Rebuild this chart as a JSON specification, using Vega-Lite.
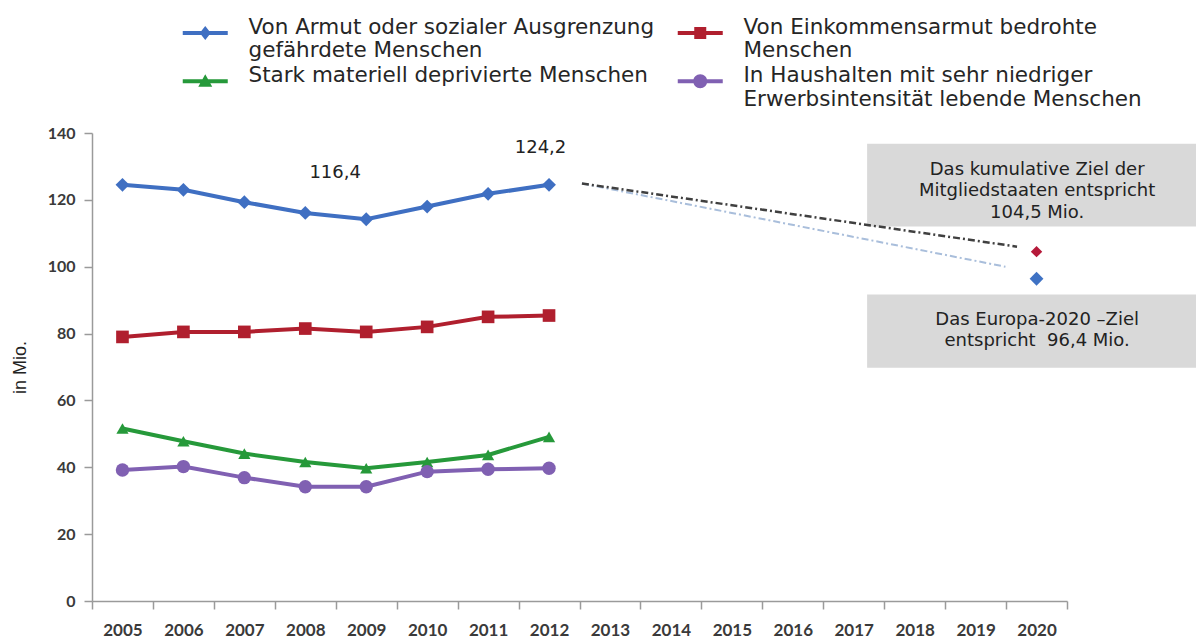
{
  "$schema": "https://vega.github.io/schema/vega-lite/v6.json",
  "width": 975,
  "height": 468,
  "autosize": "none",
  "padding": {"left": 92, "top": 133, "right": 129, "bottom": 37},
  "background": "white",
  "config": {"view": {"stroke": null}, "font": "Liberation Sans"},
  "datasets": {
    "series": [
      {"year": 2005, "value": 124.5, "series": "Von Armut oder sozialer Ausgrenzung|gefährdete Menschen"},
      {"year": 2006, "value": 123.0, "series": "Von Armut oder sozialer Ausgrenzung|gefährdete Menschen"},
      {"year": 2007, "value": 119.3, "series": "Von Armut oder sozialer Ausgrenzung|gefährdete Menschen"},
      {"year": 2008, "value": 116.1, "series": "Von Armut oder sozialer Ausgrenzung|gefährdete Menschen"},
      {"year": 2009, "value": 114.2, "series": "Von Armut oder sozialer Ausgrenzung|gefährdete Menschen"},
      {"year": 2010, "value": 118.0, "series": "Von Armut oder sozialer Ausgrenzung|gefährdete Menschen"},
      {"year": 2011, "value": 121.8, "series": "Von Armut oder sozialer Ausgrenzung|gefährdete Menschen"},
      {"year": 2012, "value": 124.5, "series": "Von Armut oder sozialer Ausgrenzung|gefährdete Menschen"},
      {"year": 2005, "value": 79.0, "series": "Von Einkommensarmut bedrohte|Menschen"},
      {"year": 2006, "value": 80.5, "series": "Von Einkommensarmut bedrohte|Menschen"},
      {"year": 2007, "value": 80.5, "series": "Von Einkommensarmut bedrohte|Menschen"},
      {"year": 2008, "value": 81.5, "series": "Von Einkommensarmut bedrohte|Menschen"},
      {"year": 2009, "value": 80.5, "series": "Von Einkommensarmut bedrohte|Menschen"},
      {"year": 2010, "value": 82.0, "series": "Von Einkommensarmut bedrohte|Menschen"},
      {"year": 2011, "value": 85.0, "series": "Von Einkommensarmut bedrohte|Menschen"},
      {"year": 2012, "value": 85.4, "series": "Von Einkommensarmut bedrohte|Menschen"},
      {"year": 2005, "value": 51.6, "series": "Stark materiell deprivierte Menschen"},
      {"year": 2006, "value": 47.8, "series": "Stark materiell deprivierte Menschen"},
      {"year": 2007, "value": 44.1, "series": "Stark materiell deprivierte Menschen"},
      {"year": 2008, "value": 41.6, "series": "Stark materiell deprivierte Menschen"},
      {"year": 2009, "value": 39.7, "series": "Stark materiell deprivierte Menschen"},
      {"year": 2010, "value": 41.6, "series": "Stark materiell deprivierte Menschen"},
      {"year": 2011, "value": 43.7, "series": "Stark materiell deprivierte Menschen"},
      {"year": 2012, "value": 49.1, "series": "Stark materiell deprivierte Menschen"},
      {"year": 2005, "value": 39.2, "series": "In Haushalten mit sehr niedriger|Erwerbsintensität lebende Menschen"},
      {"year": 2006, "value": 40.2, "series": "In Haushalten mit sehr niedriger|Erwerbsintensität lebende Menschen"},
      {"year": 2007, "value": 36.9, "series": "In Haushalten mit sehr niedriger|Erwerbsintensität lebende Menschen"},
      {"year": 2008, "value": 34.2, "series": "In Haushalten mit sehr niedriger|Erwerbsintensität lebende Menschen"},
      {"year": 2009, "value": 34.2, "series": "In Haushalten mit sehr niedriger|Erwerbsintensität lebende Menschen"},
      {"year": 2010, "value": 38.7, "series": "In Haushalten mit sehr niedriger|Erwerbsintensität lebende Menschen"},
      {"year": 2011, "value": 39.4, "series": "In Haushalten mit sehr niedriger|Erwerbsintensität lebende Menschen"},
      {"year": 2012, "value": 39.7, "series": "In Haushalten mit sehr niedriger|Erwerbsintensität lebende Menschen"}
    ],
    "projection": [
      {"line": "Mitgliedstaaten", "year": 2012.54, "value": 124.9},
      {"line": "Mitgliedstaaten", "year": 2019.68, "value": 106.0},
      {"line": "Europa", "year": 2012.54, "value": 124.9},
      {"line": "Europa", "year": 2019.49, "value": 100.0}
    ],
    "targets": [
      {"target": "Mitgliedstaaten", "year": 2020, "value": 104.5},
      {"target": "Europa", "year": 2020, "value": 96.4}
    ],
    "boxes": [
      {"box": "Mitgliedstaaten", "x0": 2017.22, "x1": 2022.62, "y0": 136.8, "y1": 112.0, "cx": 2020.01, "cy": 129.0, "text": "Das kumulative Ziel der|Mitgliedstaaten entspricht|104,5 Mio."},
      {"box": "Europa", "x0": 2017.22, "x1": 2022.62, "y0": 91.7, "y1": 69.8, "cx": 2020.01, "cy": 84.2, "text": "Das Europa-2020 \u2013Ziel|entspricht \u00a096,4 Mio."}
    ],
    "labels": [
      {"year": 2008.49, "value": 127.9, "label": "116,4"},
      {"year": 2011.86, "value": 135.6, "label": "124,2"}
    ]
  },
  "layer": [
    {
      "data": {"name": "boxes"},
      "mark": {"type": "rect", "color": "#d9d9d9"},
      "encoding": {
        "x": {"field": "x0", "type": "quantitative", "scale": {"domain": [2004.5, 2020.5], "nice": false, "zero": false}},
        "x2": {"field": "x1"},
        "y": {"field": "y0", "type": "quantitative", "scale": {"domain": [0, 140], "nice": false}},
        "y2": {"field": "y1"}
      }
    },
    {
      "data": {"name": "boxes"},
      "transform": [{"calculate": "split(datum.text, '|')", "as": "lines"}],
      "mark": {"type": "text", "font": "DejaVu Sans", "fontSize": 18, "color": "#222", "align": "center", "baseline": "middle", "lineHeight": 21.5},
      "encoding": {
        "x": {"field": "cx", "type": "quantitative"},
        "y": {"field": "cy", "type": "quantitative"},
        "text": {"field": "lines"}
      }
    },
    {
      "data": {"name": "projection"},
      "transform": [{"filter": "datum.line == 'Europa'"}],
      "mark": {"type": "line", "color": "#a9bedb", "strokeWidth": 2, "strokeDash": [7, 3, 2, 3]},
      "encoding": {
        "x": {"field": "year", "type": "quantitative"},
        "y": {"field": "value", "type": "quantitative"}
      }
    },
    {
      "data": {"name": "projection"},
      "transform": [{"filter": "datum.line == 'Mitgliedstaaten'"}],
      "mark": {"type": "line", "color": "#404040", "strokeWidth": 2.5, "strokeDash": [7, 3, 2, 3]},
      "encoding": {
        "x": {"field": "year", "type": "quantitative"},
        "y": {"field": "value", "type": "quantitative"}
      }
    },
    {
      "data": {"name": "series"},
      "mark": {"type": "line", "strokeWidth": 4},
      "encoding": {
        "x": {
          "field": "year", "type": "quantitative",
          "scale": {"domain": [2004.5, 2020.5], "nice": false, "zero": false},
          "axis": {
            "title": null,
            "values": [2004.5, 2005.5, 2006.5, 2007.5, 2008.5, 2009.5, 2010.5, 2011.5, 2012.5, 2013.5, 2014.5, 2015.5, 2016.5, 2017.5, 2018.5, 2019.5, 2020.5],
            "labelExpr": "datum.value < 2020 ? format(datum.value + 0.5, 'd') : ''",
            "labelOffset": 30.47,
            "tickSize": 8, "tickColor": "#9a9a9a", "tickWidth": 1.5,
            "domainColor": "#9a9a9a", "domainWidth": 1.5,
            "labelFont": "Lato", "labelFontWeight": "bold", "labelFontSize": 17, "labelColor": "#3a3a3a",
            "labelPadding": 13, "labelOverlap": false, "labelBound": false, "labelFlush": false, "grid": false
          }
        },
        "y": {
          "field": "value", "type": "quantitative",
          "scale": {"domain": [0, 140], "nice": false},
          "axis": {
            "title": "in Mio.", "titleFont": "Liberation Sans", "titleFontSize": 18, "titleFontWeight": "normal", "titleColor": "#222", "titlePadding": 18,
            "values": [0, 20, 40, 60, 80, 100, 120, 140],
            "tickSize": 8, "tickColor": "#9a9a9a", "tickWidth": 1.5,
            "domainColor": "#9a9a9a", "domainWidth": 1.5,
            "labelFont": "Lato", "labelFontWeight": "bold", "labelFontSize": 16, "labelColor": "#3a3a3a",
            "labelPadding": 9, "grid": false
          }
        },
        "color": {
          "field": "series", "type": "nominal",
          "scale": {
            "domain": ["Von Armut oder sozialer Ausgrenzung|gefährdete Menschen", "Von Einkommensarmut bedrohte|Menschen", "Stark materiell deprivierte Menschen", "In Haushalten mit sehr niedriger|Erwerbsintensität lebende Menschen"],
            "range": ["#3f6fc2", "#b01f2e", "#26993a", "#8060b2"]
          },
          "legend": {
            "orient": "none", "legendX": 102.5, "legendY": -116, "columns": 2, "direction": "horizontal", "title": null,
            "symbolSize": 400, "symbolOpacity": 1, "symbolStrokeWidth": 0,
            "labelFont": "DejaVu Sans", "labelFontSize": 21.5, "labelColor": "#262626",
            "labelLimit": 900, "labelOffset": 32.5, "columnPadding": 23, "rowPadding": 2.5, "padding": 0,
            "labelExpr": "split(datum.label, '|')",
            "encode": {"labels": {"update": {"lineHeight": {"value": 23.5}}}}
          }
        }
      }
    },
    {
      "data": {"name": "series"},
      "mark": {"type": "point", "filled": true, "opacity": 0},
      "encoding": {
        "x": {"field": "year", "type": "quantitative"},
        "y": {"field": "value", "type": "quantitative"},
        "color": {"field": "series", "type": "nominal"},
        "shape": {
          "field": "series", "type": "nominal",
          "scale": {
            "domain": ["Von Armut oder sozialer Ausgrenzung|gefährdete Menschen", "Von Einkommensarmut bedrohte|Menschen", "Stark materiell deprivierte Menschen", "In Haushalten mit sehr niedriger|Erwerbsintensität lebende Menschen"],
            "range": [
              "M-2.25,0.3H2.25V0.7H-2.25Z M0,-0.2L0.55,0.5L0,1.2L-0.55,0.5Z",
              "M-2.25,0.3H2.25V0.7H-2.25Z M-0.6,-0.1H0.6V1.1H-0.6Z",
              "M-2.25,0.3H2.25V0.7H-2.25Z M0,-0.2L0.7,1.05H-0.7Z",
              "M-2.25,0.3H2.25V0.7H-2.25Z M-0.7,0.5A0.7,0.7 0 1,1 0.7,0.5A0.7,0.7 0 1,1 -0.7,0.5Z"
            ]
          },
          "legend": null
        }
      }
    },
    {
      "data": {"name": "series"},
      "transform": [{"filter": "datum.series == 'Von Armut oder sozialer Ausgrenzung|gefährdete Menschen'"}],
      "mark": {"type": "point", "shape": "diamond", "filled": true, "opacity": 1, "size": 190, "color": "#3f6fc2"},
      "encoding": {"x": {"field": "year", "type": "quantitative"}, "y": {"field": "value", "type": "quantitative"}}
    },
    {
      "data": {"name": "series"},
      "transform": [{"filter": "datum.series == 'Von Einkommensarmut bedrohte|Menschen'"}],
      "mark": {"type": "point", "shape": "square", "filled": true, "opacity": 1, "size": 160, "color": "#b01f2e"},
      "encoding": {"x": {"field": "year", "type": "quantitative"}, "y": {"field": "value", "type": "quantitative"}}
    },
    {
      "data": {"name": "series"},
      "transform": [{"filter": "datum.series == 'Stark materiell deprivierte Menschen'"}],
      "mark": {"type": "point", "shape": "triangle-up", "filled": true, "opacity": 1, "size": 150, "color": "#26993a"},
      "encoding": {"x": {"field": "year", "type": "quantitative"}, "y": {"field": "value", "type": "quantitative"}}
    },
    {
      "data": {"name": "series"},
      "transform": [{"filter": "datum.series == 'In Haushalten mit sehr niedriger|Erwerbsintensität lebende Menschen'"}],
      "mark": {"type": "point", "shape": "circle", "filled": true, "opacity": 1, "size": 180, "color": "#8060b2"},
      "encoding": {"x": {"field": "year", "type": "quantitative"}, "y": {"field": "value", "type": "quantitative"}}
    },
    {
      "data": {"name": "targets"},
      "transform": [{"filter": "datum.target == 'Mitgliedstaaten'"}],
      "mark": {"type": "point", "shape": "diamond", "filled": true, "opacity": 1, "size": 130, "color": "#b5193a"},
      "encoding": {"x": {"field": "year", "type": "quantitative"}, "y": {"field": "value", "type": "quantitative"}}
    },
    {
      "data": {"name": "targets"},
      "transform": [{"filter": "datum.target == 'Europa'"}],
      "mark": {"type": "point", "shape": "diamond", "filled": true, "opacity": 1, "size": 190, "color": "#3f72c4"},
      "encoding": {"x": {"field": "year", "type": "quantitative"}, "y": {"field": "value", "type": "quantitative"}}
    },
    {
      "data": {"name": "labels"},
      "mark": {"type": "text", "font": "DejaVu Sans", "fontSize": 18, "color": "#222", "align": "center", "baseline": "middle"},
      "encoding": {
        "x": {"field": "year", "type": "quantitative"},
        "y": {"field": "value", "type": "quantitative"},
        "text": {"field": "label"}
      }
    }
  ]
}
